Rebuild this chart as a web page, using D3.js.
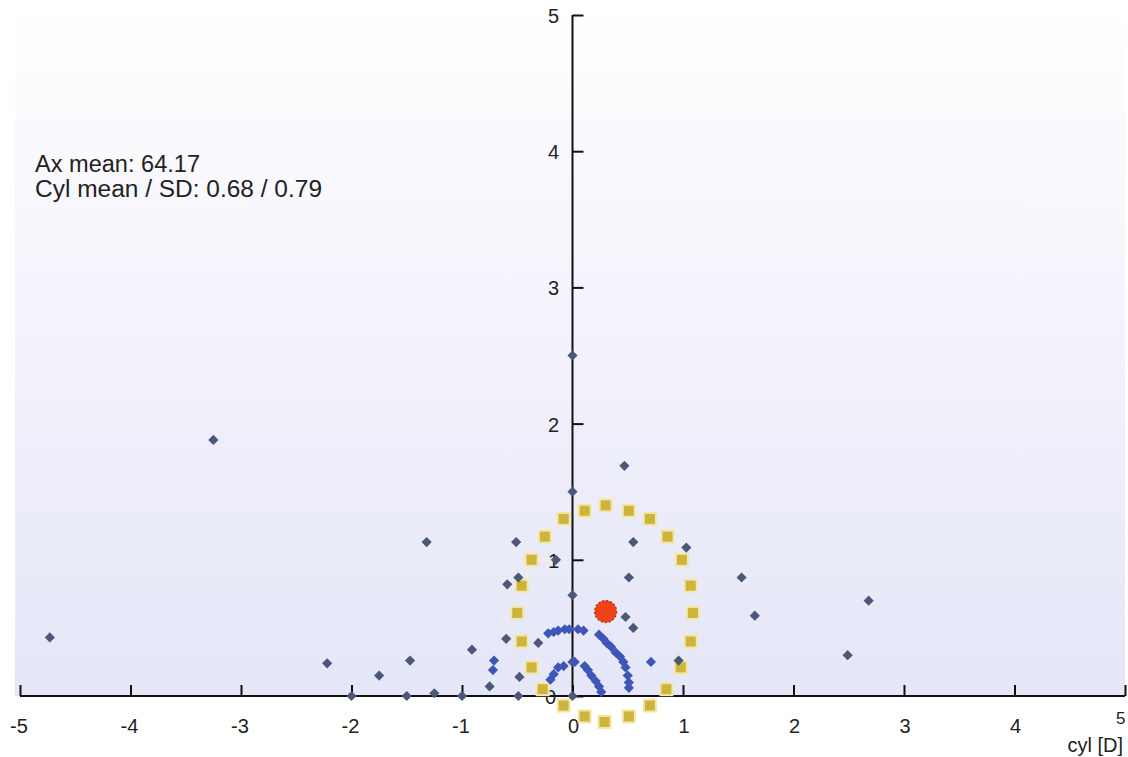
<!DOCTYPE html>
<html><head><meta charset="utf-8">
<script src="https://cdn.jsdelivr.net/npm/d3@7"></script>
<style>html,body{margin:0;padding:0;background:#fff;overflow:hidden}svg{display:block}</style>
</head><body>
<svg id="chart" width="1128" height="757"></svg>
<script>
// ---- data (double-angle plot, cyl [D]) ----
const xTicks = [-5,-4,-3,-2,-1,0,1,2,3,4,5];
const yTicks = [0,1,2,3,4,5];
const xLabel = "cyl [D]";
const annotation = ["Ax mean: 64.17", "Cyl mean / SD: 0.68 / 0.79"];

// individual eyes (dark markers)
const darkX = [-4.73,-3.25,-2.22,-1.75,-1.47,-1.32,-2.0,-1.5,-1.25,-1.0,-0.91,-0.75,-0.60,-0.59,-0.49,-0.51,-0.31,-0.48,-0.49,-0.15,
               0.0,0.0,0.0,0.0,0.0,0.47,0.55,0.51,1.03,0.48,0.55,0.96,1.53,1.65,2.68,2.49];
const darkY = [0.43,1.88,0.24,0.15,0.26,1.13,0.0,0.0,0.02,0.0,0.34,0.07,0.42,0.82,0.87,1.13,0.39,0.14,0.0,1.0,
               2.5,1.5,0.74,0.25,0.0,1.69,1.13,0.87,1.09,0.58,0.50,0.26,0.87,0.59,0.70,0.30];
// blue markers (clusters at 0.25 D and 0.5 D)
const blueX = [-0.20,-0.17,-0.13,-0.08,0.02,0.11,0.14,0.17,0.21,0.24,0.26,
               -0.22,-0.17,-0.13,-0.07,-0.03,0.05,0.10,0.24,0.28,0.31,0.35,0.39,0.43,0.46,0.48,0.50,0.51,0.51,
               -0.71,-0.72,0.71];
const blueY = [0.12,0.16,0.21,0.22,0.25,0.22,0.19,0.15,0.11,0.07,0.03,
               0.46,0.47,0.48,0.49,0.49,0.49,0.48,0.45,0.42,0.39,0.36,0.32,0.29,0.25,0.21,0.15,0.10,0.06,
               0.26,0.19,0.25];
// SD ring (yellow squares)
const ringX = [0.11,0.30,0.51,0.70,0.86,0.99,1.07,1.09,1.07,0.98,0.85,0.70,0.51,0.29,0.11,-0.08,-0.27,-0.37,-0.46,-0.50,-0.46,-0.37,-0.25,-0.08];
const ringY = [1.36,1.40,1.36,1.30,1.17,1.00,0.81,0.61,0.40,0.21,0.05,-0.07,-0.15,-0.19,-0.15,-0.07,0.05,0.21,0.40,0.61,0.81,1.00,1.17,1.30];
// mean
const meanX = [0.30];
const meanY = [0.62];

// ---- drawing ----
const svg = d3.select("#chart");
const x = d3.scaleLinear().domain([-5,5]).range([20,1125]);
const y = d3.scaleLinear().domain([0,5]).range([696,15]);

const defs = svg.append("defs");
const grad = defs.append("linearGradient").attr("id","bg").attr("x1",0).attr("y1",0).attr("x2",0).attr("y2",1);
grad.append("stop").attr("offset","0%").attr("stop-color","#ffffff");
grad.append("stop").attr("offset","30%").attr("stop-color","#f7f7fd");
grad.append("stop").attr("offset","100%").attr("stop-color","#e5e6f7");
svg.append("rect").attr("x",15).attr("y",0).attr("width",1110).attr("height",y(0)).attr("fill","url(#bg)");

// axes
const fontFam = "'Liberation Sans', Arial, sans-serif";
const xAxisG = svg.append("g").attr("transform",`translate(0,${y(0)})`)
  .call(d3.axisTop(x).tickValues(xTicks).tickSize(11).tickFormat(""));
const yAxisG = svg.append("g").attr("transform",`translate(${x(0)},0)`)
  .call(d3.axisRight(y).tickValues(yTicks).tickSize(11).tickFormat(""));
[xAxisG,yAxisG].forEach(g=>{
  g.select(".domain").attr("stroke","#111").attr("stroke-width",2);
  g.selectAll(".tick line").attr("stroke","#111").attr("stroke-width",2);
});
xAxisG.select(".domain").attr("d",`M${x(-5)},0H${x(5)}`);
yAxisG.select(".domain").attr("d",`M0,${y(5)}V${y(0)}`);

// tick labels
svg.append("g").selectAll("text").data(xTicks.filter(d=>d!==5)).join("text")
  .attr("x",d=>x(d)+ (d<0?-1:1)).attr("y",733)
  .attr("text-anchor","middle").attr("font-family",fontFam).attr("font-size",20).attr("fill","#222")
  .text(d=>d);
svg.append("text").attr("x",1116).attr("y",724).attr("font-family",fontFam).attr("font-size",17).attr("fill","#222").text(5);
svg.append("g").selectAll("text").data(yTicks).join("text")
  .attr("x",d=>d===0?556:559).attr("y",d=>y(d)+8)
  .attr("text-anchor","end").attr("font-family",fontFam).attr("font-size",20).attr("fill","#222")
  .text(d=>d);
svg.append("text").attr("x",1123).attr("y",752).attr("text-anchor","end")
  .attr("font-family",fontFam).attr("font-size",20).attr("fill","#222").text(xLabel);

// annotation
svg.append("g").selectAll("text").data(annotation).join("text")
  .attr("x",35).attr("y",(d,i)=>172+i*25)
  .attr("font-family",fontFam).attr("font-size",23.5).attr("fill","#222")
  .attr("textLength",(d,i)=>i===0?165:287).attr("lengthAdjust","spacingAndGlyphs")
  .text(d=>d);

// SD ring squares
const ring = ringX.map((v,i)=>({x:v,y:ringY[i]}));
svg.append("g").selectAll("rect").data(ring).join("rect")
  .attr("x",d=>x(d.x)-6).attr("y",d=>y(d.y)-6).attr("width",12).attr("height",12)
  .attr("fill","#cdb43c").attr("stroke","#f3e7a8").attr("stroke-width",2);

// markers
const diamond = d3.symbol().type(d3.symbolSquare).size(52);
const dark = darkX.map((v,i)=>({x:v,y:darkY[i]}));
const blue = blueX.map((v,i)=>({x:v,y:blueY[i]}));
svg.append("g").selectAll("path").data(dark).join("path")
  .attr("d",diamond).attr("transform",d=>`translate(${x(d.x)},${y(d.y)}) rotate(45)`)
  .attr("fill","#4c5878");
svg.append("g").selectAll("path").data(blue).join("path")
  .attr("d",diamond).attr("transform",d=>`translate(${x(d.x)},${y(d.y)}) rotate(45)`)
  .attr("fill","#3e56b8");

// mean
const mean = meanX.map((v,i)=>({x:v,y:meanY[i]}));
svg.append("g").selectAll("circle").data(mean).join("circle")
  .attr("cx",d=>x(d.x)).attr("cy",d=>y(d.y)).attr("r",11)
  .attr("fill","#f0431a").attr("stroke","#a5361c").attr("stroke-width",1.2).attr("stroke-dasharray","2,2");
</script>
</body></html>
